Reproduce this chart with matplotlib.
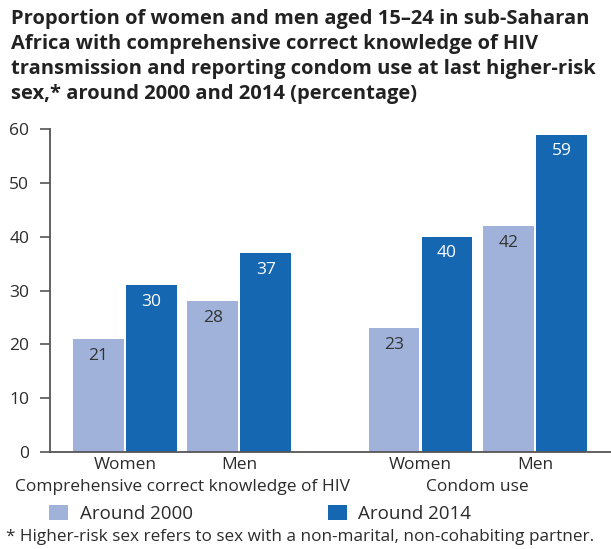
import matplotlib.pyplot as plt
import numpy as np

plt.rcParams['font.family'] = ['Open Sans', 'DejaVu Sans']

title = ("Proportion of women and men aged 15\u201324 in sub-Saharan\n"
         "Africa with comprehensive correct knowledge of HIV\n"
         "transmission and reporting condom use at last higher-risk\n"
         "sex,* around 2000 and 2014 (percentage)")
footnote = "* Higher-risk sex refers to sex with a non-marital, non-cohabiting partner."

groups = ["Comprehensive correct knowledge of HIV", "Condom use"]
sexes = ["Women", "Men"]
series = ["Around 2000", "Around 2014"]
around_2000 = [21, 28, 23, 42]
around_2014 = [31, 37, 40, 59]
labels_2000 = ["21", "28", "23", "42"]
labels_2014 = ["30", "37", "40", "59"]
yticks = [0, 10, 20, 30, 40, 50, 60]

light = "#a0b2d9"
dark = "#1667b2"
axis_col = "#555555"
text_col = "#2b2b2b"

# category centres: two sexes per group, wider gap between groups
in_gap, out_gap = 2.18, 3.45
cat_x = []
pos = 0.0
for g in range(len(groups)):
    for s in range(len(sexes)):
        cat_x.append(pos)
        pos += in_gap if s < len(sexes) - 1 else out_gap
cat_x = np.array(cat_x)

fig = plt.figure(figsize=(6.11, 5.49), dpi=100)
ax = fig.add_axes([50 / 611, 0.1772, 561 / 611, 0.5873])

off, w = 0.505, 0.97
b1 = ax.bar(cat_x - off, around_2000, w, color=light, label=series[0])
b2 = ax.bar(cat_x + off, around_2014, w, color=dark, label=series[1])

for rect, lab in zip(b1, labels_2000):
    ax.annotate(lab, (rect.get_x() + rect.get_width() / 2, rect.get_height()),
                xytext=(0, -12), textcoords="offset points", ha="center", va="center",
                fontsize=12.5, color="#333333")
for rect, lab in zip(b2, labels_2014):
    ax.annotate(lab, (rect.get_x() + rect.get_width() / 2, rect.get_height()),
                xytext=(0, -12), textcoords="offset points", ha="center", va="center",
                fontsize=12.5, color="white")

ax.set_xlim(-1.43, 9.26)
ax.set_ylim(0, 60)
ax.set_yticks(yticks)
ax.tick_params(axis="y", length=7, width=1.2, color=axis_col, labelsize=12.5,
               labelcolor=text_col, pad=8)
ax.set_xticks(cat_x)
ax.set_xticklabels(sexes * len(groups))
ax.tick_params(axis="x", length=0, labelsize=12.5, labelcolor=text_col, pad=4)
for side in ["top", "right"]:
    ax.spines[side].set_visible(False)
for side in ["left", "bottom"]:
    ax.spines[side].set_color(axis_col)
    ax.spines[side].set_linewidth(1.3)

# group labels under the sex labels
for g, name in enumerate(groups):
    gx = cat_x[2 * g:2 * g + 2].mean()
    ax.annotate(name, (gx, 0), xycoords=("data", "axes fraction"), xytext=(0, -25.5),
                textcoords="offset points", ha="center", va="center",
                fontsize=12.5, color=text_col)

fig.text(11 / 611, 1 - 9 / 549, title, ha="left", va="top", fontsize=14.5,
         fontweight="bold", color="#222222", linespacing=1.33)

leg = fig.legend(handles=[b1, b2], loc="center left", bbox_to_anchor=(49 / 611, 1 - 514 / 549),
                 ncol=2, frameon=False, fontsize=13.5, handlelength=1.0, handleheight=0.8,
                 columnspacing=7.2, handletextpad=0.64, borderpad=0, borderaxespad=0,
                 labelcolor=text_col)

fig.text(6 / 611, 1 - 537 / 549, footnote, ha="left", va="center", fontsize=12.3, color=text_col)

fig.savefig("out.png", dpi=100)
